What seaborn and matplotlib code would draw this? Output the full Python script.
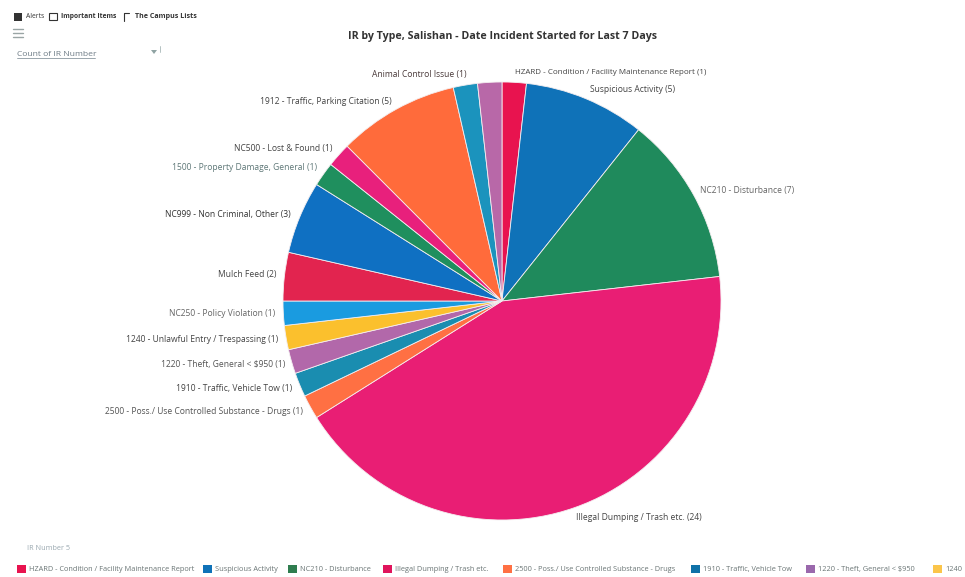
import matplotlib
matplotlib.use("Agg")
import matplotlib.pyplot as plt
from matplotlib.patches import Rectangle, Polygon
import seaborn as sns

# Slices run clockwise from twelve o'clock; one small purple slice carries no label.
counts = [1, 5, 7, 24, 1, 1, 1, 1, 1, 2, 3, 1, 1, 5, 1, 1]
slice_colors = [
    "#e8134f", "#0f72b8", "#1f8a5c", "#e91e74", "#ff7043", "#1a8db0",
    "#b268aa", "#fbc02d", "#1a9be0", "#e2244f", "#0f70c2", "#1f8f5e",
    "#e8207c", "#ff6b3b", "#1b93bd", "#b868a8",
]

label_texts = [
    "HZARD - Condition / Facility Maintenance Report (1)",
    "Suspicious Activity (5)",
    "NC210 - Disturbance (7)",
    "Illegal Dumping / Trash etc. (24)",
    "2500 - Poss./ Use Controlled Substance - Drugs (1)",
    "1910 - Traffic, Vehicle Tow (1)",
    "1220 - Theft, General < $950 (1)",
    "1240 - Unlawful Entry / Trespassing (1)",
    "NC250 - Policy Violation (1)",
    "Mulch Feed (2)",
    "NC999 - Non Criminal, Other (3)",
    "1500 - Property Damage, General (1)",
    "NC500 - Lost & Found (1)",
    "1912 - Traffic, Parking Citation (5)",
    "Animal Control Issue (1)",
]
label_anchors = [
    (515, 73, "left"), (590, 90, "left"), (700, 190, "left"), (576, 517, "left"),
    (303, 411, "right"), (292, 388, "right"), (285, 364, "right"), (278, 340, "right"),
    (275, 314, "right"), (276, 275, "right"), (291, 214, "right"), (317, 168, "right"),
    (332, 148, "right"), (392, 101, "right"), (467, 75, "right"),
]
label_shades = [
    "#444444", "#444444", "#666666", "#444444", "#555555", "#444444", "#555555",
    "#444444", "#666666", "#444444", "#333333", "#5f7878", "#444444", "#444444", "#4a3a3a",
]
label_sizes = [5.8, 6.15, 6.15, 6.15, 6.15, 6.15, 6.15, 6.15, 6.15, 6.15, 6.15, 6.15, 6.15, 6.15, 6.15]

legend_names = [
    "HZARD - Condition / Facility Maintenance Report", "Suspicious Activity",
    "NC210 - Disturbance", "Illegal Dumping / Trash etc.",
    "2500 - Poss./ Use Controlled Substance - Drugs", "1910 - Traffic, Vehicle Tow",
    "1220 - Theft, General < $950", "1240",
]
legend_colors = ["#e8134f", "#0f72b8", "#2f7d4f", "#e0145c", "#ff7043", "#0f72a8", "#9a68ac", "#fbc54a"]
legend_starts = [17, 203, 288, 383, 503, 691, 806, 933]

sns.set_theme(style="white")
plt.rcParams["font.family"] = ["Open Sans", "DejaVu Sans"]

W, H = 965, 577
fig = plt.figure(figsize=(W / 100, H / 100), dpi=100, facecolor="white")

# Overlay in pixel units for the page furniture and the labels.
page = fig.add_axes([0, 0, 1, 1], zorder=2)
page.set_xlim(0, W)
page.set_ylim(H, 0)
page.axis("off")
page.patch.set_alpha(0)

# Pie: radius 219 px about the centre (502, 301).
cx, cy, r = 502, 301, 219
ax = fig.add_axes([(cx - r) / W, 1 - (cy + r) / H, 2 * r / W, 2 * r / H], zorder=1)
ax.pie(
    counts,
    colors=sns.color_palette(slice_colors),
    startangle=90,
    counterclock=False,
    radius=1,
    wedgeprops={"edgecolor": "#f4eef0", "linewidth": 0.6},
)
ax.set_xlim(-1, 1)
ax.set_ylim(-1, 1)

for text, (x, y, ha), shade, size in zip(label_texts, label_anchors, label_shades, label_sizes):
    page.text(x, y, text, ha=ha, va="center", fontsize=size, color=shade)

page.text(503, 36, "IR by Type, Salishan - Date Incident Started for Last 7 Days",
          ha="center", va="center", fontsize=7.7, fontweight="bold", color="#333333")

# Toolbar along the top edge.
page.add_patch(Rectangle((14, 13), 8, 8, facecolor="#333333", edgecolor="none"))
page.text(26, 16.5, "Alerts", va="center", fontsize=4.9, color="#333333")
page.add_patch(Rectangle((49, 13), 8, 7, facecolor="white", edgecolor="#333333", linewidth=0.8))
page.text(61, 16.5, "Important Items", va="center", fontsize=4.9, fontweight="bold", color="#333333")
page.plot([124, 124, 129], [21, 13, 13], color="#333333", linewidth=0.8)
page.text(135, 16.5, "The Campus Lists", va="center", fontsize=5.1, fontweight="bold", color="#333333")
for y in (28.5, 32.5, 36.5):
    page.plot([13, 23], [y, y], color="#9aa5a5", linewidth=1.0)

# Measure selector.
page.text(17, 54, "Count of IR Number", va="center", fontsize=6.1, color="#6d7b85")
page.plot([17, 95], [58, 58], color="#8a97a0", linewidth=0.6)
page.add_patch(Polygon([(151, 50), (157, 50), (154, 54)], facecolor="#8fa3a3", edgecolor="none"))
page.plot([160, 160], [46, 52], color="#a8b8b8", linewidth=0.6)

# Legend strip along the bottom edge.
page.text(27, 549, "IR Number 5", va="center", fontsize=5.2, color="#9aa8b0")
for name, color, x0 in zip(legend_names, legend_colors, legend_starts):
    page.add_patch(Rectangle((x0, 565), 9, 8, facecolor=color, edgecolor="none"))
    page.text(x0 + 12, 569.5, name, va="center", fontsize=5.3, color="#6a7575")

fig.savefig("out.png", dpi=100, facecolor="white")
